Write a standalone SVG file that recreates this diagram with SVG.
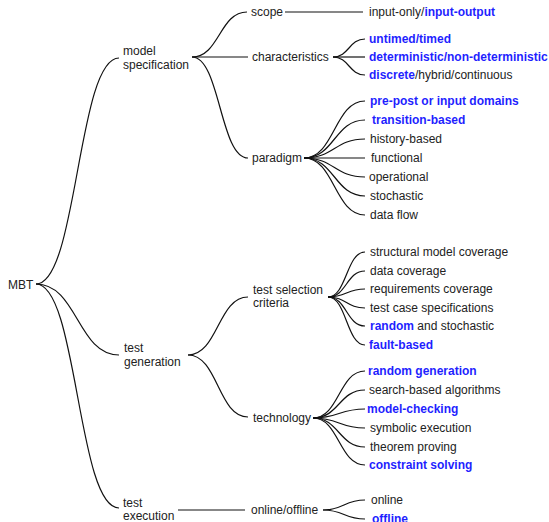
<svg xmlns="http://www.w3.org/2000/svg" width="549" height="522" viewBox="0 0 549 522">
  <style>
    .t { font-family: "Liberation Sans", Arial, sans-serif; font-size: 12px; fill: #222; }
    .b { font-weight: bold; fill: #1f1fff; }
    .c { fill: none; stroke: #111; stroke-width: 1.2; }
  </style>
  <rect width="549" height="522" fill="#fff"/>

  <!-- connectors -->
  <g id="connectors">
    <!-- root -->
    <path class="c" d="M36 284 C77.5 284 77.5 58 119 58"/>
    <path class="c" d="M36 284 C77.5 284 77.5 355 119 355"/>
    <path class="c" d="M36 284 C77.5 284 77.5 508 119 508"/>
    <!-- model specification -->
    <path class="c" d="M192 57 C219.5 57 219.5 12 247 12"/>
    <path class="c" d="M192 57 L248 57"/>
    <path class="c" d="M192 57 C220 57 220 158 248 158"/>
    <path class="c" d="M285 12 L363 12"/>
    <!-- characteristics -->
    <path class="c" d="M333 57 C349 57 349 39 365 39"/>
    <path class="c" d="M333 57 L365 57"/>
    <path class="c" d="M333 57 C349 57 349 75 365 75"/>
    <!-- paradigm -->
    <path class="c" d="M304 158 C334.5 158 334.5 101 365 101"/>
    <path class="c" d="M304 158 C334.5 158 334.5 120 365 120"/>
    <path class="c" d="M304 158 C334.5 158 334.5 139 365 139"/>
    <path class="c" d="M304 158 L365 158"/>
    <path class="c" d="M304 158 C334.5 158 334.5 177 365 177"/>
    <path class="c" d="M304 158 C334.5 158 334.5 196 365 196"/>
    <path class="c" d="M304 158 C334.5 158 334.5 215 365 215"/>
    <!-- test generation -->
    <path class="c" d="M188 355 C218 355 218 297 248 297"/>
    <path class="c" d="M188 355 C218 355 218 417 248 417"/>
    <!-- test selection criteria -->
    <path class="c" d="M328 297 C346.5 297 346.5 252 365 252"/>
    <path class="c" d="M328 297 C346.5 297 346.5 271 365 271"/>
    <path class="c" d="M328 297 C346.5 297 346.5 289 365 289"/>
    <path class="c" d="M328 297 C346.5 297 346.5 308 365 308"/>
    <path class="c" d="M328 297 C346.5 297 346.5 326 365 326"/>
    <path class="c" d="M328 297 C346.5 297 346.5 345 365 345"/>
    <!-- technology -->
    <path class="c" d="M313 418 C339 418 339 371 365 371"/>
    <path class="c" d="M313 418 C339 418 339 390 365 390"/>
    <path class="c" d="M313 418 C339 418 339 409 365 409"/>
    <path class="c" d="M313 418 C339 418 339 428 365 428"/>
    <path class="c" d="M313 418 C339 418 339 447 365 447"/>
    <path class="c" d="M313 418 C339 418 339 465 365 465"/>
    <!-- test execution -->
    <path class="c" d="M178 510 L245 510"/>
    <path class="c" d="M323 510 C344 510 344 500 365 500"/>
    <path class="c" d="M323 510 C344 510 344 519 365 519"/>
  </g>

  <!-- inner nodes -->
  <g id="mbt"><text class="t" x="8" y="289">MBT</text></g>
  <g id="model-specification"><text class="t" x="123" y="55">model</text><text class="t" x="123" y="69">specification</text></g>
  <g id="test-generation"><text class="t" x="124" y="352">test</text><text class="t" x="124" y="366">generation</text></g>
  <g id="test-execution"><text class="t" x="123" y="507">test</text><text class="t" x="123" y="520">execution</text></g>
  <g id="scope"><text class="t" x="251" y="16">scope</text></g>
  <g id="characteristics"><text class="t" x="252" y="61">characteristics</text></g>
  <g id="paradigm"><text class="t" x="252" y="162">paradigm</text></g>
  <g id="test-selection-criteria"><text class="t" x="253" y="294">test selection</text><text class="t" x="253" y="307">criteria</text></g>
  <g id="technology"><text class="t" x="253" y="422">technology</text></g>
  <g id="online-offline"><text class="t" x="251" y="514">online/offline</text></g>

  <!-- leaves -->
  <g id="scope-leaf"><text class="t" x="369" y="16">input-only/<tspan class="b">input-output</tspan></text></g>
  <g id="char-timed"><text class="t b" x="369" y="43">untimed/timed</text></g>
  <g id="char-determinism"><text class="t b" x="369" y="61">deterministic/non-deterministic</text></g>
  <g id="char-continuity"><text class="t" x="369" y="79"><tspan class="b">discrete</tspan>/hybrid/continuous</text></g>

  <g id="par-prepost"><text class="t b" x="370" y="105">pre-post or input domains</text></g>
  <g id="par-transition"><text class="t b" x="372" y="124">transition-based</text></g>
  <g id="par-history"><text class="t" x="370" y="143">history-based</text></g>
  <g id="par-functional"><text class="t" x="371" y="162">functional</text></g>
  <g id="par-operational"><text class="t" x="369" y="181">operational</text></g>
  <g id="par-stochastic"><text class="t" x="370" y="200">stochastic</text></g>
  <g id="par-dataflow"><text class="t" x="370" y="219">data flow</text></g>

  <g id="sel-structural"><text class="t" x="370" y="256">structural model coverage</text></g>
  <g id="sel-data"><text class="t" x="370" y="275">data coverage</text></g>
  <g id="sel-requirements"><text class="t" x="370" y="293">requirements coverage</text></g>
  <g id="sel-testcase"><text class="t" x="370" y="312">test case specifications</text></g>
  <g id="sel-random"><text class="t" x="370" y="330"><tspan class="b">random</tspan> and stochastic</text></g>
  <g id="sel-fault"><text class="t b" x="369" y="349">fault-based</text></g>

  <g id="tech-random"><text class="t b" x="368" y="375">random generation</text></g>
  <g id="tech-search"><text class="t" x="369" y="394">search-based algorithms</text></g>
  <g id="tech-modelcheck"><text class="t b" x="367" y="413">model-checking</text></g>
  <g id="tech-symbolic"><text class="t" x="370" y="432">symbolic execution</text></g>
  <g id="tech-theorem"><text class="t" x="370" y="451">theorem proving</text></g>
  <g id="tech-constraint"><text class="t b" x="369" y="469">constraint solving</text></g>

  <g id="exec-online"><text class="t" x="371" y="504">online</text></g>
  <g id="exec-offline"><text class="t b" x="372" y="523">offline</text></g>
</svg>
